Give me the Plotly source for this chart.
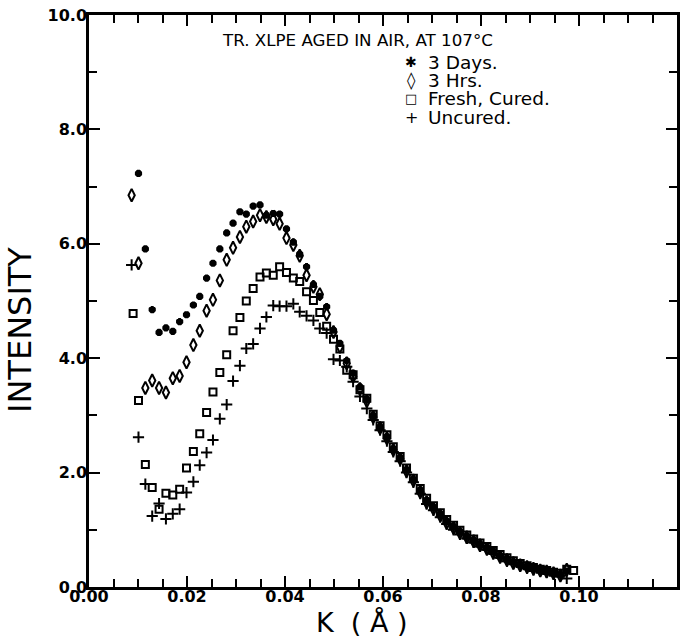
import plotly.graph_objects as go

# ---- data ----
k_days = [0.0101, 0.0115, 0.0129, 0.0143, 0.0157, 0.0171, 0.0185, 0.0199, 0.0213, 0.0226,
          0.0240, 0.0253, 0.0267, 0.0281, 0.0294, 0.0308, 0.0321, 0.0335, 0.0349, 0.0362,
          0.0376, 0.0389, 0.0403, 0.0417, 0.0430, 0.0444, 0.0458, 0.0471, 0.0485, 0.0499,
          0.0512, 0.0526, 0.0539, 0.0553, 0.0567, 0.0580, 0.0594, 0.0608, 0.0621, 0.0635,
          0.0648, 0.0662, 0.0676, 0.0689, 0.0703, 0.0717, 0.0730, 0.0744, 0.0757, 0.0771,
          0.0785, 0.0798, 0.0812, 0.0825, 0.0839, 0.0853, 0.0866, 0.0880, 0.0894, 0.0907,
          0.0921, 0.0934, 0.0948, 0.0962, 0.0975]
i_days = [7.23, 5.91, 4.85, 4.45, 4.53, 4.47, 4.64, 4.76, 4.93, 5.08,
          5.40, 5.66, 5.91, 6.19, 6.36, 6.56, 6.52, 6.66, 6.68, 6.50,
          6.53, 6.52, 6.26, 6.03, 5.82, 5.60, 5.29, 5.08, 4.90, 4.49,
          4.26, 3.96, 3.74, 3.50, 3.28, 3.00, 2.80, 2.63, 2.42, 2.26,
          2.05, 1.88, 1.70, 1.52, 1.40, 1.28, 1.16, 1.06, 0.97, 0.89,
          0.82, 0.75, 0.69, 0.63, 0.55, 0.49, 0.44, 0.40, 0.36, 0.33,
          0.30, 0.28, 0.25, 0.22, 0.28]

k_hrs = [0.0087, 0.0101, 0.0115, 0.0129, 0.0143, 0.0157, 0.0171, 0.0185, 0.0199, 0.0213,
         0.0226, 0.0240, 0.0253, 0.0267, 0.0281, 0.0294, 0.0308, 0.0321, 0.0335, 0.0349,
         0.0362, 0.0376, 0.0389, 0.0403, 0.0417, 0.0430, 0.0444, 0.0458, 0.0471, 0.0485,
         0.0499, 0.0512, 0.0526, 0.0539, 0.0553, 0.0567, 0.0580, 0.0594, 0.0608, 0.0621,
         0.0635, 0.0648, 0.0662, 0.0676, 0.0689, 0.0703, 0.0717, 0.0730, 0.0744, 0.0757,
         0.0771, 0.0785, 0.0798, 0.0812, 0.0825, 0.0839, 0.0853, 0.0866, 0.0880, 0.0894,
         0.0907, 0.0921, 0.0934, 0.0948, 0.0962, 0.0975]
i_hrs = [6.85, 5.66, 3.48, 3.61, 3.48, 3.40, 3.65, 3.69, 3.93, 4.23,
         4.48, 4.83, 5.02, 5.36, 5.72, 5.93, 6.12, 6.30, 6.39, 6.50,
         6.47, 6.43, 6.35, 6.10, 5.98, 5.79, 5.45, 5.25, 5.12, 4.77,
         4.46, 4.20, 3.91, 3.68, 3.46, 3.25, 2.97, 2.78, 2.60, 2.40,
         2.24, 2.03, 1.86, 1.66, 1.48, 1.37, 1.25, 1.12, 1.03, 0.95,
         0.87, 0.80, 0.73, 0.67, 0.60, 0.53, 0.47, 0.42, 0.38, 0.35,
         0.32, 0.29, 0.27, 0.24, 0.20, 0.30]

k_fresh = [0.0090, 0.0101, 0.0115, 0.0129, 0.0143, 0.0157, 0.0171, 0.0185, 0.0199, 0.0213,
           0.0226, 0.0240, 0.0253, 0.0267, 0.0281, 0.0294, 0.0308, 0.0321, 0.0335, 0.0349,
           0.0362, 0.0376, 0.0389, 0.0403, 0.0417, 0.0430, 0.0444, 0.0458, 0.0471, 0.0485,
           0.0499, 0.0512, 0.0526, 0.0539, 0.0553, 0.0567, 0.0580, 0.0594, 0.0608, 0.0621,
           0.0635, 0.0648, 0.0662, 0.0676, 0.0689, 0.0703, 0.0717, 0.0730, 0.0744, 0.0757,
           0.0771, 0.0785, 0.0798, 0.0812, 0.0825, 0.0839, 0.0853, 0.0866, 0.0880, 0.0894,
           0.0907, 0.0921, 0.0934, 0.0948, 0.0962, 0.0975, 0.0989]
i_fresh = [4.78, 3.26, 2.14, 1.74, 1.36, 1.64, 1.61, 1.71, 2.08, 2.37,
           2.68, 3.05, 3.41, 3.75, 4.06, 4.48, 4.71, 5.00, 5.22, 5.42,
           5.49, 5.45, 5.60, 5.50, 5.40, 5.34, 5.16, 5.01, 4.80, 4.56,
           4.33, 4.16, 3.79, 3.71, 3.45, 3.30, 3.02, 2.82, 2.66, 2.45,
           2.28, 2.08, 1.90, 1.72, 1.55, 1.42, 1.30, 1.18, 1.08, 0.99,
           0.91, 0.84, 0.77, 0.71, 0.64, 0.57, 0.51, 0.46, 0.41, 0.37,
           0.34, 0.31, 0.29, 0.26, 0.24, 0.31, 0.29]

k_uncured = [0.0087, 0.0101, 0.0115, 0.0129, 0.0143, 0.0157, 0.0171, 0.0185, 0.0199, 0.0213,
             0.0226, 0.0240, 0.0253, 0.0267, 0.0281, 0.0294, 0.0308, 0.0321, 0.0335, 0.0349,
             0.0362, 0.0376, 0.0389, 0.0403, 0.0417, 0.0430, 0.0444, 0.0458, 0.0471, 0.0485,
             0.0499, 0.0512, 0.0526, 0.0539, 0.0553, 0.0567, 0.0580, 0.0594, 0.0608, 0.0621,
             0.0635, 0.0648, 0.0662, 0.0676, 0.0689, 0.0703, 0.0717, 0.0730, 0.0744, 0.0757,
             0.0771, 0.0785, 0.0798, 0.0812, 0.0825, 0.0839, 0.0853, 0.0866, 0.0880, 0.0894,
             0.0907, 0.0921, 0.0934, 0.0948, 0.0962, 0.0975]
i_uncured = [5.63, 2.62, 1.80, 1.24, 1.46, 1.19, 1.28, 1.36, 1.65, 1.84,
             2.13, 2.35, 2.57, 2.94, 3.19, 3.60, 3.87, 4.17, 4.25, 4.52,
             4.72, 4.92, 4.91, 4.91, 4.95, 4.81, 4.74, 4.66, 4.52, 4.44,
             3.98, 3.96, 3.85, 3.59, 3.33, 3.12, 2.92, 2.74, 2.55, 2.36,
             2.20, 2.00, 1.83, 1.63, 1.45, 1.34, 1.22, 1.10, 1.00, 0.92,
             0.85, 0.78, 0.71, 0.65, 0.58, 0.51, 0.45, 0.41, 0.37, 0.33,
             0.30, 0.28, 0.26, 0.23, 0.20, 0.15]

series_names = ["3 Days.", "3 Hrs.", "Fresh, Cured.", "Uncured."]
legend_glyphs = ["✱", "◊", "□", "+"]
legend_glyph_sizes = [14, 17, 13, 16]
title_text = "TR. XLPE AGED IN AIR, AT 107°C"
x_title = "K\u00a0\u00a0(\u00a0Å\u00a0)"
y_title = "INTENSITY"

# ---- figure ----
fig = go.Figure()
styles = [
    dict(symbol="asterisk-open", size=6, line=dict(width=3, color="black"), color="black"),
    dict(symbol="diamond-tall-open", size=9, line=dict(width=2, color="black"), color="black"),
    dict(symbol="square-open", size=7, line=dict(width=2, color="black"), color="black"),
    dict(symbol="cross-thin-open", size=8, line=dict(width=2, color="black"), color="black"),
]
data = [(k_days, i_days), (k_hrs, i_hrs), (k_fresh, i_fresh), (k_uncured, i_uncured)]
for (kx, iy), name, st in zip(data, series_names, styles):
    fig.add_trace(go.Scatter(x=kx, y=iy, mode="markers", name=name, marker=st,
                             showlegend=False))

fig.update_xaxes(
    range=[0, 0.12], dtick=0.02, tick0=0, tickformat=".2f",
    showline=True, linecolor="black", linewidth=2.5, mirror="allticks",
    ticks="inside", ticklen=11, tickwidth=2, tickcolor="black",
    minor=dict(dtick=0.005, ticks="inside", ticklen=8, tickwidth=2, tickcolor="black", showgrid=False),
    showgrid=False, zeroline=False, automargin=False,
    ticklabelstandoff=-7,
    tickfont=dict(family="DejaVu Sans", size=16, color="black", weight="bold"),
)
fig.update_yaxes(
    range=[0, 10], dtick=2, tick0=0, tickformat=".1f",
    showline=True, linecolor="black", linewidth=2.5, mirror="allticks",
    ticks="inside", ticklen=11, tickwidth=2, tickcolor="black",
    minor=dict(dtick=1, ticks="inside", ticklen=8, tickwidth=2, tickcolor="black", showgrid=False),
    showgrid=False, zeroline=False, automargin=False,
    ticklabelstandoff=-4,
    tickfont=dict(family="DejaVu Sans", size=16, color="black", weight="bold"),
)

def px_x(p):
    return (p - 89) / 588.0

def px_y(p):
    return (587 - p) / 572.0

fig.add_annotation(text=title_text, xref="paper", yref="paper", x=px_x(220), y=px_y(40),
                   xanchor="left", yanchor="middle", showarrow=False,
                   font=dict(family="DejaVu Sans", size=16.7, color="black"))
fig.add_annotation(text=x_title, xref="paper", yref="paper", x=px_x(362), y=px_y(622),
                   xanchor="center", yanchor="middle", showarrow=False,
                   font=dict(family="DejaVu Sans", size=27, color="black"))
fig.add_annotation(text=y_title, xref="paper", yref="paper", x=px_x(20), y=px_y(330),
                   xanchor="center", yanchor="middle", showarrow=False, textangle=-90,
                   font=dict(family="DejaVu Sans", size=32, color="black"))

legend_rows = [62, 80, 98.5, 117]
for glyph, gsize, name, row in zip(legend_glyphs, legend_glyph_sizes, series_names, legend_rows):
    fig.add_annotation(text=glyph, xref="paper", yref="paper", x=px_x(411), y=px_y(row),
                       xanchor="center", yanchor="middle", showarrow=False,
                       font=dict(family="DejaVu Sans", size=gsize, color="black"))
    fig.add_annotation(text=name, xref="paper", yref="paper", x=px_x(426), y=px_y(row),
                       xanchor="left", yanchor="middle", showarrow=False,
                       font=dict(family="DejaVu Sans", size=18.5, color="black"))

fig.update_layout(
    width=693, height=639,
    margin=dict(l=89, r=16, t=15, b=52),
    paper_bgcolor="white", plot_bgcolor="white",
    showlegend=False,
)

fig.write_html("out.html", config={"displayModeBar": False},
               post_script="document.body.style.margin='0';document.body.style.overflow='hidden';")
